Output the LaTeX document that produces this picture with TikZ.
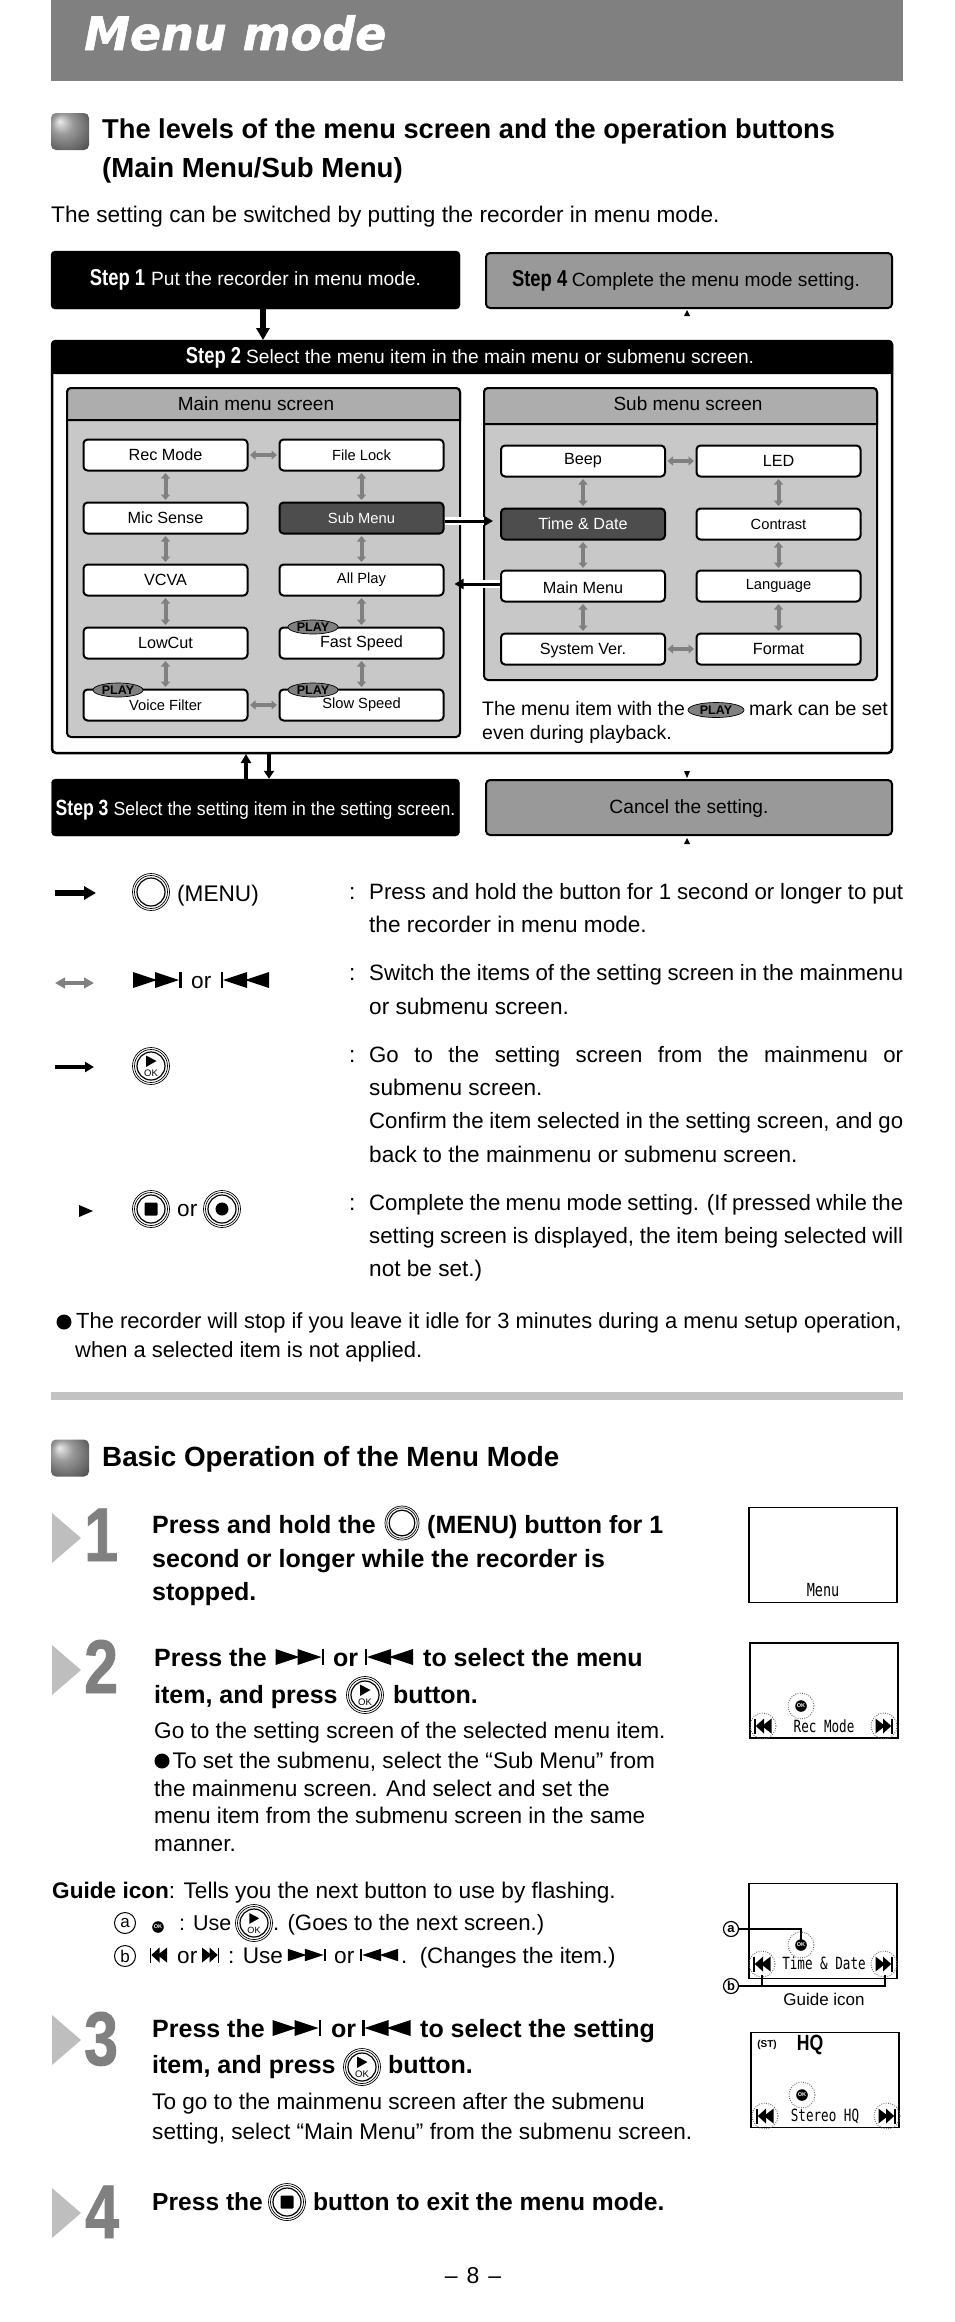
\documentclass[tikz,border=0pt]{standalone}
\usepackage{fontspec}
\setmainfont{Liberation Sans}
\newfontfamily\stepfont[FakeStretch=0.8,UprightFont=* Bold]{Liberation Sans}
\newfontfamily\numfont[FakeStretch=0.8,FakeBold=1.2,UprightFont=* Bold]{Liberation Sans}
\newfontfamily\tightfont[FakeStretch=0.93]{Liberation Sans}
\newfontfamily\lcdfont[FakeStretch=0.75]{DejaVu Sans Mono}
\newfontfamily\titlefont[FakeBold=1.2,UprightFont=* Bold Oblique]{DejaVu Sans}
\usetikzlibrary{arrows.meta, positioning, shapes.geometric, calc}

\newcommand{\fs}[1]{\fontsize{#1}{#1}\selectfont}
\newcommand{\fitline}[1]{\makebox[534pt][s]{\fs{22.2}#1}}

\definecolor{headgray}{HTML}{808080}
\definecolor{bandgray}{HTML}{ADADAD}
\definecolor{panelgray}{HTML}{C8C8C8}
\definecolor{darkitem}{HTML}{4D4D4D}
\definecolor{stepgray}{HTML}{999999}
\definecolor{rulegray}{HTML}{C2C2C2}
\definecolor{markgray}{HTML}{BEBEBE}

\pgfdeclareradialshading{bulletshade}{\pgfpoint{-14bp}{14bp}}{
    color(0bp)=(black!8); color(14bp)=(black!40); color(32bp)=(black!62); color(50bp)=(black!88)}

\tikzset{
    blackstep/.style={draw=black, fill=black, rounded corners=4pt, inner sep=0pt, text=white},
    graystep/.style={draw=black, line width=2pt, fill=stepgray, rounded corners=4pt, inner sep=0pt},
    item/.style={draw=black, line width=2pt, fill=white, rounded corners=4pt, inner sep=0pt,
        minimum width=164pt, minimum height=31pt, font=\fs{16.2}},
    smallitem/.style={item, font=\fs{14.7}},
    darkbox/.style={item, fill=darkitem, text=white},
    playmark/.style={ellipse, draw=black, line width=0.7pt, fill=headgray, inner sep=0pt,
        minimum width=50pt, minimum height=14pt, font=\bfseries\fs{12.5}},
    swaparrow/.style={draw=headgray, line width=4pt, shorten <=1.5pt, shorten >=1.5pt,
        {Triangle[length=5.5pt,width=9pt]}-{Triangle[length=5.5pt,width=9pt]}},
    legendswap/.style={draw=headgray, line width=3.5pt,
        {Triangle[length=10pt,width=10.5pt]}-{Triangle[length=10pt,width=10.5pt]}},
    boldflow/.style={line width=6pt, -{Triangle[length=12pt,width=13pt]}},
    thinflow/.style={line width=3.5pt, -{Triangle[length=9pt,width=10pt]}},
    bodytxt/.style={anchor=base west, inner sep=0pt, font=\fs{22.6}},
    headtxt/.style={anchor=base west, inner sep=0pt, font=\bfseries\fs{27.6}},
    boldtxt/.style={anchor=base west, inner sep=0pt, font=\bfseries\fs{25}},
    numtxt/.style={anchor=base west, inner sep=0pt, text=headgray, font=\numfont\fs{76}},
    lcdtxt/.style={anchor=base, inner sep=0pt, font=\lcdfont\fs{16.8}},
    bulletbox/.style={rounded corners=5pt, minimum width=38pt, minimum height=37pt, inner sep=0pt,
        shading=bulletshade},
    lcdscreen/.style={draw=black, line width=1.3pt, fill=white, inner sep=0pt,
        minimum width=148pt, minimum height=95pt},
    roundletter/.style={circle, draw=black, line width=1pt, fill=white, inner sep=0pt,
        minimum size=21pt, font=\fs{17}},
    tagletter/.style={roundletter, line width=1.2pt, minimum size=15pt, font=\bfseries\fs{13}},
    triangmark/.pic={\fill[markgray] (-14.5,-25) -- (14.5,0) -- (-14.5,25) -- cycle;},
    menubtn/.pic={
        \draw[line width=0.7pt, fill=white] (0,0) circle (18.5pt);
        \draw[line width=0.7pt] (0,0) circle (16.5pt);
        \draw[line width=1.2pt] (0,0) circle (14pt);
    },
    okbtn/.pic={
        \pic {menubtn};
        \fill (-5,-10.5) -- (5.5,-5) -- (-5,1) -- cycle;
        \node[inner sep=0pt, transform shape, font=\fs{9.5}] (-oklabel) at (0,7.5) {OK};
    },
    stopbtn/.pic={
        \pic {menubtn};
        \fill[rounded corners=1pt] (-6.5,-6.5) rectangle (6.5,6.5);
    },
    recbtn/.pic={
        \pic {menubtn};
        \fill (0,0) circle (6.5pt);
    },
    nexticon/.pic={
        \fill (-24,-8) -- (0,0) -- (-24,8) -- cycle;
        \fill (-2,-8) -- (22,0) -- (-2,8) -- cycle;
        \fill (22,-8) rectangle (24.5,8);
    },
    lcdnext/.pic={
        \fill (-8.5,-7.5) -- (1,0) -- (-8.5,7.5) -- cycle;
        \fill (-1,-7.5) -- (7.2,0) -- (-1,7.5) -- cycle;
        \fill (7.2,-7.5) rectangle (8.6,7.5);
    },
    okdot/.pic={
        \fill (0,0) circle (5.8pt);
        \node[inner sep=0pt, text=white, font=\bfseries\fs{5.5}] (-oktag) at (0,0) {OK};
    },
    halo/.pic={\draw[black!60, line width=1pt, dash pattern=on 0.8pt off 1.5pt] (0,0) circle (13pt);},
}

\begin{document}
\begin{tikzpicture}[x=1pt, y=-1pt]
    \useasboundingbox (0,0) rectangle (954,2322);

    % page head
    \fill[headgray] (51,0) rectangle (903,81);
    \node[anchor=base west, inner sep=0pt, text=white, font=\titlefont\fs{46}] (pagetitle) at (84,50) {Menu mode};

    \node[bulletbox] (bulletone) at (70,131.5) {};
    \node[headtxt, font=\bfseries\fs{27.25}] (headone) at (102,138) {The levels of the menu screen and the operation buttons};
    \node[headtxt] (headtwo) at (102,177) {(Main Menu/Sub Menu)};
    \node[bodytxt] (introline) at (51,222) {The setting can be switched by putting the recorder in menu mode.};

    % step boxes
    \node[blackstep, minimum width=409pt, minimum height=58pt] (stepone) at (255.5,280) {{\stepfont\fs{23}Step 1}\hspace{6pt}{\fs{19.2}Put the recorder in menu mode.}};
    \node[graystep, minimum width=406pt, minimum height=55pt] (stepfour) at (689,280.5) {\hspace{-6pt}{\stepfont\fs{23}Step 4}\hspace{4.5pt}{\fs{19.2}Complete the menu mode setting.}};
    \draw[line width=2.5pt, rounded corners=4pt, fill=white] (52,341) rectangle (892,753);
    \fill[black, rounded corners=4pt] (51,340) -- (893,340) -- (893,374) -- (51,374) -- cycle;
    \fill[black] (51,360) rectangle (893,374);
    \node[inner sep=0pt, text=white] (steptwo) at (470,358) {{\stepfont\fs{23}Step 2}\hspace{5pt}{\fs{19.2}Select the menu item in the main menu or submenu screen.}};
    \coordinate (boxtop) at (263,340);
    \node[blackstep, minimum width=408pt, minimum height=57pt] (stepthree) at (255.5,807.5) {};
    \node[inner sep=0pt, text=white] (stepthreetext) at (255.5,810) {{\stepfont\fs{22}Step 3}\hspace{5pt}{\tightfont\fs{19}Select the setting item in the setting screen.}};
    \node[graystep, minimum width=406pt, minimum height=55pt] (cancel) at (689,807.5) {};
    \node[inner sep=0pt, font=\fs{19.2}] (canceltext) at (689,809) {Cancel the setting.};

    \draw[boldflow] ([xshift=7.5pt]stepone.south) -- (boxtop);
    \draw[thinflow] ([xshift=-9.5pt]stepthree.north) -- (246,754);
    \draw[boldflow, line width=4pt, -{Triangle[length=8pt,width=10pt]}] (269,754) -- ([xshift=13.5pt]stepthree.north);
    \fill (687,310) -- (684,316) -- (690,316) -- cycle;
    \fill (687,778) -- (684,771) -- (690,771) -- cycle;
    \fill (687,838) -- (684,844) -- (690,844) -- cycle;

    % main menu panel
    \draw[line width=2pt, fill=panelgray, rounded corners=4pt] (67,388) rectangle (460,737);
    \draw[line width=2pt, fill=bandgray] (67,420) [rounded corners=4pt] -- (67,388) -- (460,388) [sharp corners] -- (460,420) -- cycle;
    \node[inner sep=0pt, font=\fs{19}] (maintitle) at (256,404) {Main menu screen};
    \node[item] (recmode) at (165.5,455) {Rec Mode};
    \node[item] (micsense) at (165.5,518) {Mic Sense};
    \node[item] (vcva) at (165.5,580) {VCVA};
    \node[item] (lowcut) at (165.5,643) {LowCut};
    \node[smallitem] (voicefilter) at (165.5,705) {Voice Filter};
    \node[smallitem] (filelock) at (361.5,455) {File Lock};
    \node[darkbox, font=\fs{14.7}] (submenu) at (361.5,518) {Sub Menu};
    \node[smallitem] (allplay) at (361.5,580) {All Play};
    \node[item] (fastspeed) at (361.5,643) {Fast Speed};
    \node[smallitem] (slowspeed) at (361.5,705) {Slow Speed};
    \node[playmark] (playfast) at (313,627) {PLAY};
    \node[playmark] (playvoice) at (118,690) {PLAY};
    \node[playmark] (playslow) at (313,690) {PLAY};

    % sub menu panel
    \draw[line width=2pt, fill=panelgray, rounded corners=4pt] (484,388) rectangle (877,680);
    \draw[line width=2pt, fill=bandgray] (484,424) [rounded corners=4pt] -- (484,388) -- (877,388) [sharp corners] -- (877,424) -- cycle;
    \node[inner sep=0pt, font=\fs{19}] (subtitle) at (688,404) {Sub menu screen};
    \node[item] (beep) at (583,461) {Beep};
    \node[darkbox] (timedate) at (583,524) {Time \& Date};
    \node[item] (mainmenu) at (583,586) {};
    \node[inner sep=0pt, font=\fs{16.2}] (mainmenutext) at (583,588) {Main Menu};
    \node[item] (systemver) at (583,649) {};
    \node[inner sep=0pt, font=\fs{16.2}] (systemvertext) at (583,650.5) {System Ver.};
    \node[item] (led) at (778.5,461) {LED};
    \node[smallitem] (contrast) at (778.5,524) {Contrast};
    \node[smallitem] (language) at (778.5,586) {Language};
    \node[item] (format) at (778.5,649) {Format};

    \foreach \a/\b in {recmode/filelock, voicefilter/slowspeed, recmode/micsense, micsense/vcva, vcva/lowcut, lowcut/voicefilter,
        filelock/submenu, submenu/allplay, allplay/fastspeed, fastspeed/slowspeed, beep/led, systemver/format,
        beep/timedate, timedate/mainmenu, mainmenu/systemver, led/contrast, contrast/language, language/format}
        \draw[swaparrow] (\a) -- (\b);

    \draw[white, line width=8pt] ([yshift=-3pt]submenu.east) -- ([xshift=-16pt,yshift=3pt]timedate.west);
    \draw[thinflow, line width=3pt] ([yshift=-3pt]submenu.east) -- ([xshift=-7pt,yshift=3pt]timedate.west);
    \draw[white, line width=8pt] ([yshift=2pt]mainmenu.west) -- ([xshift=22pt,yshift=-4pt]allplay.east);
    \draw[thinflow, line width=3pt] ([yshift=2pt]mainmenu.west) -- ([xshift=10pt,yshift=-4pt]allplay.east);

    \node[bodytxt, font=\fs{19.5}] (noteone) at (482,715) {The menu item with the};
    \node[playmark, minimum width=56pt, minimum height=15pt] (playnote) at (716,710) {PLAY};
    \node[bodytxt, font=\fs{19.5}] (notetwo) at (749,715) {mark can be set};
    \node[bodytxt, font=\fs{19.5}] (notethree) at (482,739) {even during playback.};

    % legend
    \coordinate (legstartone) at (55,893);
    \coordinate (legendone) at (96,893);
    \draw[boldflow] (legstartone) -- (legendone);
    \pic at (151,892) {menubtn};
    \node[bodytxt] (menuword) at (177,901) {(MENU)};
    \coordinate (legstarttwo) at (55,983);
    \coordinate (legendtwo) at (94,983);
    \draw[legendswap] (legstarttwo) -- (legendtwo);
    \pic at (157,980) {nexticon};
    \node[bodytxt] (legor) at (191,988) {or};
    \pic[xscale=-1] at (245,980) {nexticon};
    \coordinate (legstartthree) at (55,1067);
    \coordinate (legendthree) at (94,1067);
    \draw[thinflow] (legstartthree) -- (legendthree);
    \pic at (151,1066) {okbtn};
    \fill (79,1205) -- (93,1211) -- (79,1217) -- cycle;
    \pic at (151,1209) {stopbtn};
    \node[bodytxt] (legortwo) at (177,1216) {or};
    \pic at (222,1209) {recbtn};

    \foreach \yy in {899, 980, 1062, 1210}
        \node[bodytxt] (colon\yy) at (349,\yy) {:};
    \foreach \yy/\txt in {
        899/\fitline{Press and hold the button for 1 second or longer to put},
        932/the recorder in menu mode.,
        980/\fitline{Switch the items of the setting screen in the mainmenu},
        1014/or submenu screen.,
        1062/\fitline{Go to the setting screen from the mainmenu or},
        1095/submenu screen.,
        1128/\fitline{Confirm the item selected in the setting screen, and go},
        1162/back to the mainmenu or submenu screen.,
        1210/\fitline{Complete the menu mode setting. (If pressed while the},
        1243/\fitline{setting screen is displayed, the item being selected will},
        1276/not be set.)}
        \node[bodytxt] (desc\yy) at (369,\yy) {\txt};

    \fill (64,1322) circle (7.5pt);
    \node[bodytxt, font=\fs{21.9}] (noteidle) at (76,1328) {The recorder will stop if you leave it idle for 3 minutes during a menu setup operation,};
    \node[bodytxt, font=\fs{21.9}] (noteidletwo) at (75,1357) {when a selected item is not applied.};
    \fill[rulegray] (51,1392) rectangle (903,1400);

    % basic operation
    \node[bulletbox] (bullettwo) at (70,1458) {};
    \node[headtxt, font=\bfseries\fs{27.8}] (headbasic) at (102,1466) {Basic Operation of the Menu Mode};

    \pic at (66.5,1538) {triangmark};
    \node[numtxt] (numone) at (84,1561) {1};
    \node[boldtxt] (pressone) at (152,1533) {Press and hold the};
    \pic[scale=0.92] at (402,1523) {menubtn};
    \node[boldtxt] (pressonetwo) at (427,1533) {(MENU) button for 1};
    \node[boldtxt] (secondline) at (152,1567) {second or longer while the recorder is};
    \node[boldtxt] (stoppedline) at (152,1600) {stopped.};

    \pic at (66.5,1670) {triangmark};
    \node[numtxt] (numtwo) at (84,1693) {2};
    \node[boldtxt] (presstwo) at (154,1666) {Press the};
    \pic at (299.5,1657) {nexticon};
    \node[boldtxt] (ortwo) at (333,1666) {or};
    \pic[xscale=-1] at (389,1657) {nexticon};
    \node[boldtxt] (selecttwo) at (423,1666) {to select the menu};
    \node[boldtxt] (itemtwo) at (154,1703) {item, and press};
    \pic at (365,1695) {okbtn};
    \node[boldtxt] (buttontwo) at (393,1703) {button.};
    \node[bodytxt] (stepdescone) at (154,1738) {Go to the setting screen of the selected menu item.};
    \fill (162,1761) circle (7.5pt);
    \node[bodytxt] (stepdesctwo) at (172.5,1768) {To set the submenu, select the ``Sub Menu'' from};
    \node[bodytxt] (stepdescthree) at (154,1796) {the mainmenu screen. And select and set the};
    \node[bodytxt] (stepdescfour) at (154,1823) {menu item from the submenu screen in the same};
    \node[bodytxt] (stepdescfive) at (154,1851) {manner.};

    % guide icon
    \node[bodytxt] (guideline) at (52,1898) {\textbf{Guide icon}: Tells you the next button to use by flashing.};
    \node[roundletter] (rowa) at (125,1923) {a};
    \pic at (158,1927) {okdot};
    \node[bodytxt, font=\fs{21.5}] (usea) at (179,1930) {: Use};
    \pic[scale=0.95] at (254,1923) {okbtn};
    \node[bodytxt, font=\fs{22.2}] (gonext) at (273,1930) {. (Goes to the next screen.)};
    \node[roundletter] (rowb) at (125,1956) {b};
    \pic[xscale=-1] at (158.5,1955) {lcdnext};
    \node[bodytxt] (orb) at (177,1963) {or};
    \pic at (210.5,1955) {lcdnext};
    \node[bodytxt] (useb) at (228,1963) {: Use};
    \pic[scale=0.78] at (306.5,1955) {nexticon};
    \node[bodytxt] (orbtwo) at (334,1963) {or};
    \pic[xscale=-0.78, yscale=0.78] at (379.5,1955) {nexticon};
    \node[bodytxt, font=\fs{22.3}] (changes) at (401,1963) {.~~(Changes the item.)};

    \pic at (66.5,2040) {triangmark};
    \node[numtxt] (numthree) at (84,2065) {3};
    \node[boldtxt] (pressthree) at (152,2037) {Press the};
    \pic at (296.5,2028) {nexticon};
    \node[boldtxt] (orthree) at (331,2037) {or};
    \pic[xscale=-1] at (386.5,2028) {nexticon};
    \node[boldtxt] (selectthree) at (420,2037) {to select the setting};
    \node[boldtxt] (itemthree) at (152,2073) {item, and press};
    \pic at (362,2067) {okbtn};
    \node[boldtxt] (buttonthree) at (388,2073) {button.};
    \node[bodytxt] (gomain) at (152,2109) {To go to the mainmenu screen after the submenu};
    \node[bodytxt] (gomaintwo) at (152,2139) {setting, select ``Main Menu'' from the submenu screen.};

    \pic at (66.5,2213) {triangmark};
    \node[numtxt] (numfour) at (85,2238) {4};
    \node[boldtxt, font=\bfseries\fs{24.6}] (pressfour) at (152,2210) {Press the};
    \pic at (287,2202) {stopbtn};
    \node[boldtxt, font=\bfseries\fs{24.6}] (exitline) at (313,2210) {button to exit the menu mode.};

    \node[anchor=base, inner sep=0pt, font=\fs{23}] (pagenum) at (473,2283) {--\hspace{9pt}8\hspace{9pt}--};

    % display screens
    \node[lcdscreen] (screenmenu) at (823,1555) {};
    \node[lcdtxt, font=\lcdfont\fs{18}] (lcdmenu) at (823,1596) {Menu};

    \node[lcdscreen] (screenrec) at (824,1690.5) {};
    \pic at (801,1706) {okdot};
    \pic at (801,1706) {halo};
    \foreach \xx/\sc in {763/-1, 884/1} {
        \pic[xscale=\sc] at (\xx,1726) {lcdnext};
        \pic at (\xx,1726) {halo};
    }
    \node[lcdtxt] (lcdrec) at (824,1732) {Rec Mode};

    \node[lcdscreen] (screenguide) at (823,1931) {};
    \draw[line width=2pt] (897,1883) -- (897,1979);
    \pic at (801,1945) {okdot};
    \pic at (801,1945) {halo};
    \foreach \xx/\sc in {762/-1, 884/1} {
        \pic[xscale=\sc] at (\xx,1964) {lcdnext};
        \pic at (\xx,1964) {halo};
    }
    \node[lcdtxt] (lcdtime) at (824,1969) {Time \& Date};
    \node[tagletter] (taga) at (731,1929) {a};
    \node[tagletter] (tagb) at (731,1986) {b};
    \coordinate (okcorner) at (801,1929);
    \coordinate (okpoint) at (801,1940);
    \draw[line width=1.6pt] (taga) -- (okcorner) -- (okpoint);
    \coordinate (leftpoint) at (762,1975);
    \coordinate (rightpoint) at (885,1975);
    \draw[line width=1.4pt] (tagb) -- (885,1986) -- (rightpoint);
    \draw[line width=1.4pt] (762,1986) -- (leftpoint);
    \node[anchor=base, inner sep=0pt, font=\fs{17}] (guidecap) at (824,2005) {Guide icon};

    \node[lcdscreen] (screenstereo) at (825,2080) {};
    \node[inner sep=0pt, font=\bfseries\fs{10}] (lcdst) at (767,2045) {(ST)};
    \node[inner sep=0pt, font=\stepfont\fs{22}] (lcdhq) at (810,2045) {HQ};
    \pic at (802,2095) {okdot};
    \pic at (802,2095) {halo};
    \foreach \xx/\sc in {765/-1, 887/1} {
        \pic[xscale=\sc] at (\xx,2116) {lcdnext};
        \pic at (\xx,2116) {halo};
    }
    \node[lcdtxt] (lcdstereo) at (825,2121) {Stereo HQ};
\end{tikzpicture}
\end{document}
